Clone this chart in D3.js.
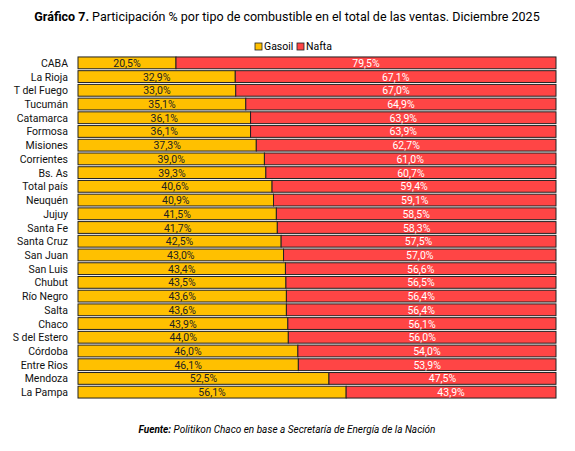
<!DOCTYPE html><html><head><meta charset="utf-8"><script src="https://cdn.jsdelivr.net/npm/d3@7"></script>
<style>body{margin:0;background:#fff}text{font-family:"Liberation Sans Narrow","Roboto",sans-serif}</style></head><body><svg id="c" width="575" height="451"></svg><script>
const provinces=["CABA","La Rioja","T del Fuego","Tucumán","Catamarca","Formosa","Misiones","Corrientes","Bs. As","Total país","Neuquén","Jujuy","Santa Fe","Santa Cruz","San Juan","San Luis","Chubut","Río Negro","Salta","Chaco","S del Estero","Córdoba","Entre Rios","Mendoza","La Pampa"];
</script><script>
const gasoil=[20.5,32.9,33.0,35.1,36.1,36.1,37.3,39.0,39.3,40.6,40.9,41.5,41.7,42.5,43.0,43.4,43.5,43.6,43.6,43.9,44.0,46.0,46.1,52.5,56.1];
const nafta=[79.5,67.1,67.0,64.9,63.9,63.9,62.7,61.0,60.7,59.4,59.1,58.5,58.3,57.5,57.0,56.6,56.5,56.4,56.4,56.1,56.0,54.0,53.9,47.5,43.9];
const svg=d3.select("#c");
const x=d3.scaleLinear().domain([0,100]).range([78,556]);
const y=d3.scaleBand().domain(provinces).range([56,399]).paddingInner(0.14).paddingOuter(0.07);
const fmt=v=>v.toFixed(1).replace(".",",")+"%";
const t=svg.append("text").attr("x",287).attr("y",21).attr("text-anchor","middle").attr("font-size",12.5);
t.append("tspan").attr("font-weight","bold").text("Gráfico 7.");t.append("tspan").text(" Participación % por tipo de combustible en el total de las ventas. Diciembre 2025");
const lg=svg.append("g");
[["Gasoil","#FFC000",255],["Nafta","#FF4545",297]].forEach(([n,c,lx])=>{lg.append("rect").attr("x",lx).attr("y",43).attr("width",7).attr("height",7).attr("fill",c).attr("stroke","#222").attr("stroke-width",0.8);lg.append("text").attr("x",lx+9).attr("y",50).attr("font-size",10.5).text(n);});
provinces.forEach((p,i)=>{
 const yy=y(p),h=y.bandwidth();
 svg.append("rect").attr("x",x(0)).attr("y",yy).attr("width",x(gasoil[i])-x(0)).attr("height",h).attr("fill","#FFC000").attr("stroke","#222").attr("stroke-width",1);
 svg.append("rect").attr("x",x(gasoil[i])).attr("y",yy).attr("width",x(100)-x(gasoil[i])).attr("height",h).attr("fill","#FF4545").attr("stroke","#222").attr("stroke-width",1);
 svg.append("text").attr("x",(x(0)+x(gasoil[i]))/2).attr("y",yy+h/2+4).attr("text-anchor","middle").attr("font-size",10.5).attr("fill","#222").text(fmt(gasoil[i]));
 svg.append("text").attr("x",(x(gasoil[i])+x(100))/2).attr("y",yy+h/2+4).attr("text-anchor","middle").attr("font-size",10.5).attr("fill","#fff").text(fmt(nafta[i]));
 svg.append("text").attr("x",68).attr("y",yy+h/2+4).attr("text-anchor","end").attr("font-size",10.5).attr("fill","#111").text(p);
});
const f=svg.append("text").attr("x",287).attr("y",433).attr("text-anchor","middle").attr("font-size",10).attr("font-style","italic");
f.append("tspan").attr("font-weight","bold").text("Fuente:");f.append("tspan").text(" Politikon Chaco en base a Secretaría de Energía de la Nación");
</script></body></html>
